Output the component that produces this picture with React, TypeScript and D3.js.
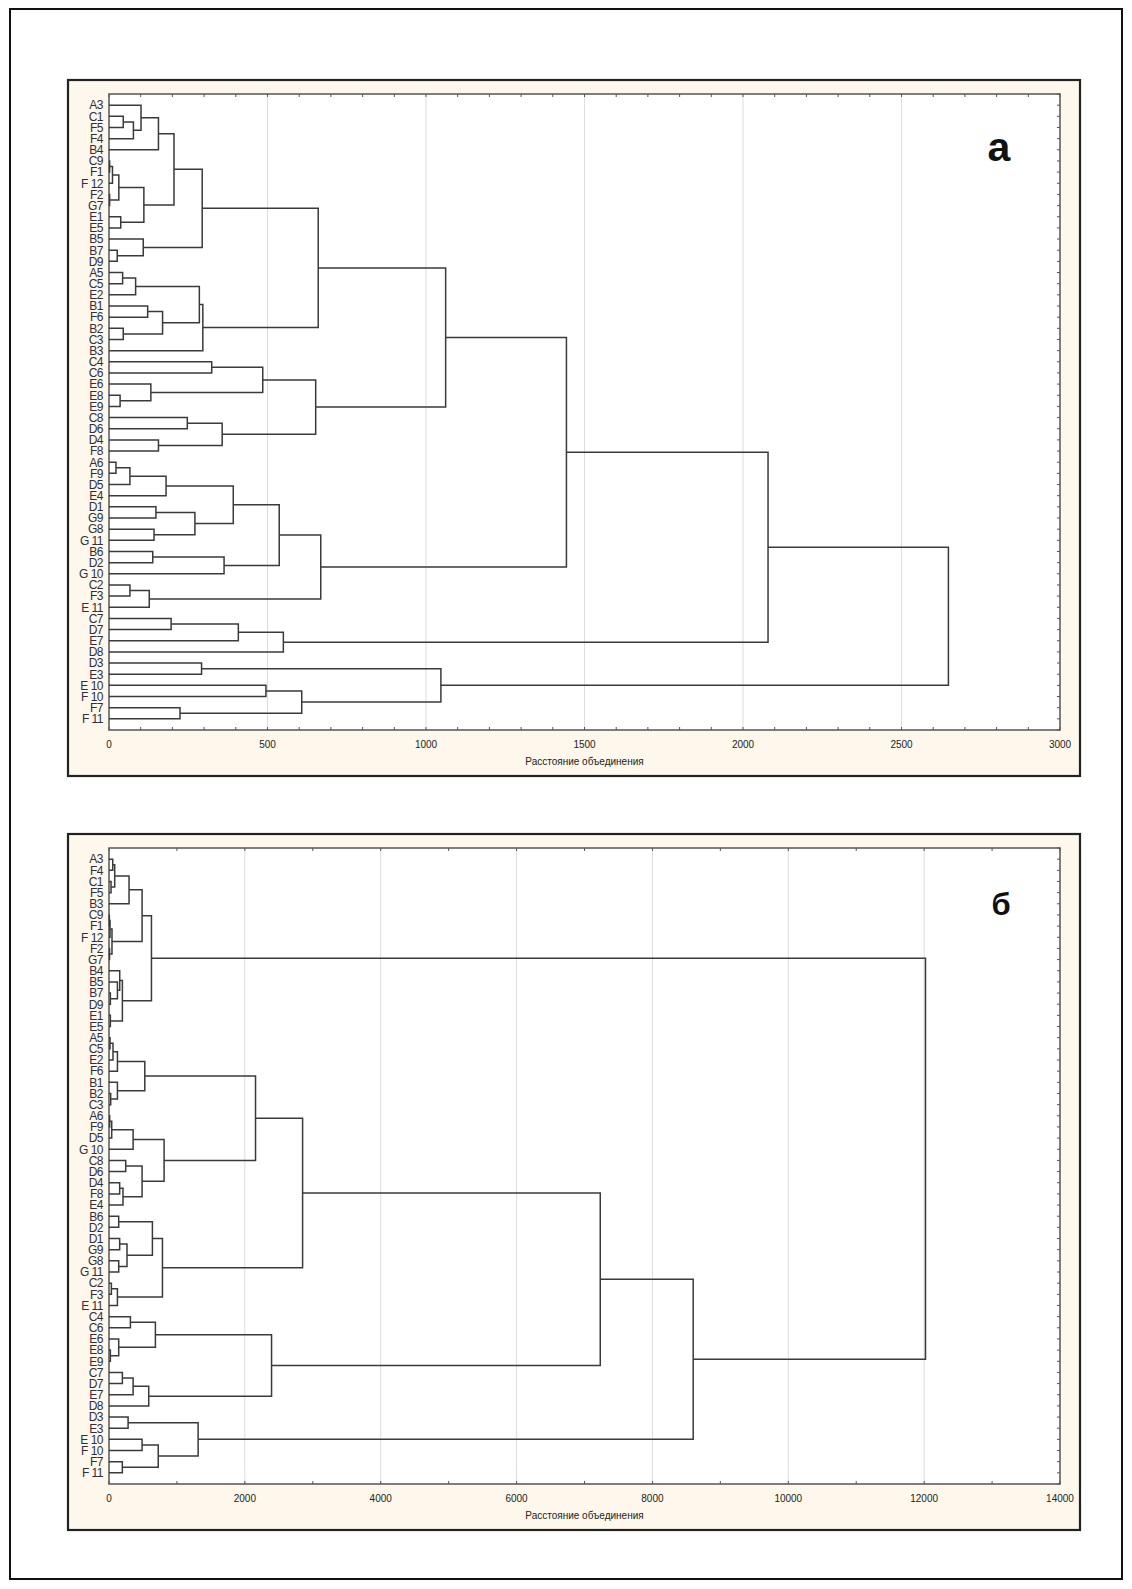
import React from "react";
import * as d3 from "d3";

// ---------- Panel а ----------
const leavesA = [
  "A3", "C1", "F5", "F4", "B4", "C9", "F1", "F 12", "F2", "G7", "E1", "E5", "B5", "B7", "D9",
  "A5", "C5", "E2", "B1", "F6", "B2", "C3", "B3", "C4", "C6", "E6", "E8", "E9", "C8", "D6",
  "D4", "F8", "A6", "F9", "D5", "E4", "D1", "G9", "G8", "G 11", "B6", "D2", "G 10", "C2", "F3",
  "E 11", "C7", "D7", "E7", "D8", "D3", "E3", "E 10", "F 10", "F7", "F 11",
];
// [left, right, distance]; "#n" refers to the n-th merge (1-based)
const mergesA: [string, string, number][] = [
  ["C1", "F5", 45], ["#1", "F4", 77], ["A3", "#2", 101], ["#3", "B4", 156],
  ["C9", "F1", 2], ["#5", "F 12", 11], ["F2", "G7", 2], ["#6", "#7", 31],
  ["E1", "E5", 37], ["#8", "#9", 110], ["#4", "#10", 205], ["B7", "D9", 26],
  ["B5", "#12", 108], ["#11", "#13", 294], ["A5", "C5", 43], ["#15", "E2", 84],
  ["B1", "F6", 122], ["B2", "C3", 45], ["#17", "#18", 169], ["#16", "#19", 285],
  ["#20", "B3", 296], ["#14", "#21", 660], ["C4", "C6", 324], ["E8", "E9", 35],
  ["E6", "#24", 132], ["#23", "#25", 485], ["C8", "D6", 247], ["D4", "F8", 156],
  ["#27", "#28", 357], ["#26", "#29", 652], ["#22", "#30", 1062], ["A6", "F9", 22],
  ["#32", "D5", 66], ["#33", "E4", 180], ["D1", "G9", 148], ["G8", "G 11", 142],
  ["#35", "#36", 271], ["#34", "#37", 392], ["B6", "D2", 138], ["#39", "G 10", 363],
  ["#38", "#40", 537], ["C2", "F3", 66], ["#42", "E 11", 127], ["#41", "#43", 668],
  ["#31", "#44", 1443], ["C7", "D7", 196], ["#46", "E7", 408], ["#47", "D8", 550],
  ["#45", "#48", 2079], ["D3", "E3", 292], ["E 10", "F 10", 495], ["F7", "F 11", 224],
  ["#51", "#52", 608], ["#50", "#53", 1047], ["#49", "#54", 2648],
];
const ticksA = [0, 500, 1000, 1500, 2000, 2500, 3000];

// ---------- Panel б ----------
const leavesB = [
  "A3", "F4", "C1", "F5", "B3", "C9", "F1", "F 12", "F2", "G7", "B4", "B5", "B7", "D9", "E1",
  "E5", "A5", "C5", "E2", "F6", "B1", "B2", "C3", "A6", "F9", "D5", "G 10", "C8", "D6", "D4",
  "F8", "E4", "B6", "D2", "D1", "G9", "G8", "G 11", "C2", "F3", "E 11", "C4", "C6", "E6", "E8",
  "E9", "C7", "D7", "E7", "D8", "D3", "E3", "E 10", "F 10", "F7", "F 11",
];
const mergesB: [string, string, number][] = [
  ["A3", "F4", 55], ["C1", "F5", 30], ["#1", "#2", 84], ["#3", "B3", 295],
  ["C9", "F1", 5], ["#5", "F 12", 15], ["F2", "G7", 8], ["#6", "#7", 44],
  ["#4", "#8", 487], ["B7", "D9", 20], ["B5", "#10", 124], ["B4", "#11", 158],
  ["E1", "E5", 20], ["#12", "#13", 197], ["#9", "#14", 625], ["A5", "C5", 15],
  ["#16", "E2", 59], ["#17", "F6", 124], ["B2", "C3", 25], ["B1", "#19", 124],
  ["#18", "#20", 527], ["A6", "F9", 10], ["#22", "D5", 40], ["#23", "G 10", 355],
  ["C8", "D6", 246], ["D4", "F8", 157], ["#26", "E4", 206], ["#25", "#27", 487],
  ["#24", "#28", 811], ["#21", "#29", 2157], ["B6", "D2", 143], ["D1", "G9", 157],
  ["G8", "G 11", 143], ["#32", "#33", 265], ["#31", "#34", 639], ["C2", "F3", 35],
  ["#36", "E 11", 124], ["#35", "#37", 787], ["#30", "#38", 2850], ["C4", "C6", 315],
  ["E8", "E9", 20], ["E6", "#41", 143], ["#40", "#42", 683], ["C7", "D7", 197],
  ["#44", "E7", 355], ["#45", "D8", 585], ["#43", "#46", 2393], ["#39", "#47", 7232],
  ["D3", "E3", 281], ["E 10", "F 10", 487], ["F7", "F 11", 196], ["#50", "#51", 725],
  ["#49", "#52", 1312], ["#48", "#53", 8600], ["#15", "#54", 12020],
];
const ticksB = [0, 2000, 4000, 6000, 8000, 10000, 12000, 14000];

const axisTitle = "Расстояние объединения";
const FONT = "Arial, 'Liberation Sans', sans-serif";

type PanelProps = {
  leaves: string[];
  merges: [string, string, number][];
  ticks: number[];
  minorStep: number;
  boxTop: number;
  letter: string;
  letterX: number;
  letterSize: number;
};

function Panel({ leaves, merges, ticks, minorStep, boxTop, letter, letterX, letterSize }: PanelProps) {
  const boxLeft = 68, boxRight = 1080, boxH = 696;
  const plotLeft = 109, plotRight = 1060;
  const plotTop = boxTop + 14, plotBottom = boxTop + 650;
  const xMax = ticks[ticks.length - 1];
  const x = d3.scaleLinear().domain([0, xMax]).range([plotLeft, plotRight]);
  const y = d3.scaleLinear().domain([0, leaves.length + 1]).range([plotTop, plotBottom]);

  const pos = new Map<string, { v: number; i: number }>();
  leaves.forEach((l, i) => pos.set(l, { v: 0, i: i + 1 }));
  const paths: string[] = [];
  merges.forEach(([a, b, h], k) => {
    const pa = pos.get(a)!;
    const pb = pos.get(b)!;
    const p = d3.path();
    p.moveTo(x(pa.v), y(pa.i));
    p.lineTo(x(h), y(pa.i));
    p.lineTo(x(h), y(pb.i));
    p.lineTo(x(pb.v), y(pb.i));
    paths.push(p.toString());
    pos.set("#" + (k + 1), { v: h, i: (pa.i + pb.i) / 2 });
  });

  const minor = d3.range(0, xMax + 1e-6, minorStep);
  const rightTicks = d3.range(0, leaves.length + 1.01, 1);

  return (
    <g>
      <rect x={boxLeft} y={boxTop} width={boxRight - boxLeft} height={boxH} fill="#fef8ec" stroke="#222" strokeWidth={2.2} />
      <rect x={plotLeft} y={plotTop} width={plotRight - plotLeft} height={plotBottom - plotTop} fill="#ffffff" />
      {ticks.slice(1, -1).map((t) => (
        <line key={"g" + t} x1={x(t)} x2={x(t)} y1={plotTop} y2={plotBottom} stroke="#dcdcdc" strokeWidth={1} />
      ))}
      {minor.map((t) => (
        <g key={"m" + t}>
          <line x1={x(t)} x2={x(t)} y1={plotTop} y2={plotTop + 3} stroke="#555" />
          <line x1={x(t)} x2={x(t)} y1={plotBottom} y2={plotBottom - 3} stroke="#555" />
        </g>
      ))}
      {rightTicks.map((t) => (
        <line key={"r" + t} x1={plotRight} x2={plotRight - 3} y1={y(t)} y2={y(t)} stroke="#555" />
      ))}
      <rect x={plotLeft} y={plotTop} width={plotRight - plotLeft} height={plotBottom - plotTop} fill="none" stroke="#555" strokeWidth={1.5} />
      {paths.map((d, i) => (
        <path key={i} d={d} fill="none" stroke="#3a3a3a" strokeWidth={1.5} />
      ))}
      {leaves.map((l, i) => (
        <text key={l} x={plotLeft - 6} y={y(i + 1)} dy="0.36em" textAnchor="end" fontSize={12} letterSpacing={-0.5} fontFamily={FONT} fill="#2e2e40">
          {l}
        </text>
      ))}
      {ticks.map((t) => (
        <text key={"t" + t} x={x(t)} y={plotBottom + 18} textAnchor="middle" fontSize={10} fontFamily={FONT} fill="#222">
          {t}
        </text>
      ))}
      <text x={(plotLeft + plotRight) / 2} y={plotBottom + 35} textAnchor="middle" fontSize={10} fontFamily={FONT} fill="#222">
        {axisTitle}
      </text>
      <text x={letterX} y={boxTop + 81} textAnchor="middle" fontSize={letterSize} fontWeight="bold" fontFamily={FONT} fill="#111">
        {letter}
      </text>
    </g>
  );
}

export default function App() {
  return (
    <svg width={1132} height={1589} style={{ position: "absolute", left: 0, top: 0, background: "#fff" }}>
      <rect x={10} y={9} width={1112} height={1570} fill="#fff" stroke="#111" strokeWidth={2} />
      <Panel leaves={leavesA} merges={mergesA} ticks={ticksA} minorStep={100} boxTop={80} letter="а" letterX={999} letterSize={41} />
      <Panel leaves={leavesB} merges={mergesB} ticks={ticksB} minorStep={1000} boxTop={834} letter="б" letterX={1001} letterSize={31} />
    </svg>
  );
}
